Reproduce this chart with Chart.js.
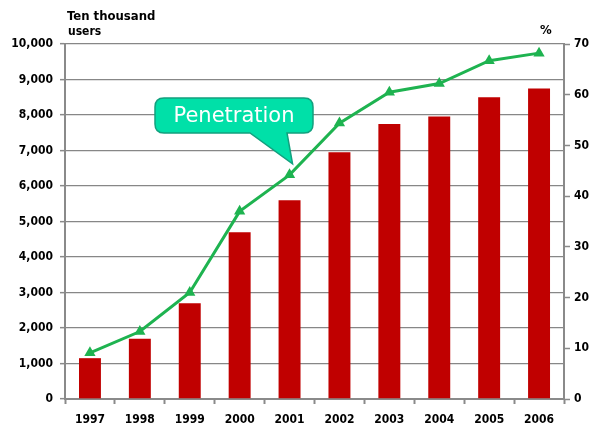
<!DOCTYPE html>
<html>
<head>
<meta charset="utf-8">
<script src="https://cdn.jsdelivr.net/npm/chart.js@4.4.1/dist/chart.umd.min.js"></script>
<style>
html,body{margin:0;padding:0;background:#fff;}
#wrap{position:relative;width:591px;height:430px;}
</style>
</head>
<body>
<div id="wrap"><canvas id="c" width="591" height="430"></canvas></div>
<script>
const categories = ['1997','1998','1999','2000','2001','2002','2003','2004','2005','2006'];
const users = [1150, 1700, 2700, 4700, 5600, 6950, 7750, 7960, 8500, 8750];
const penetration = [9.1, 13.3, 21.0, 37.0, 44.2, 54.4, 60.5, 62.2, 66.7, 68.2];
const leftTicks = [0,1000,2000,3000,4000,5000,6000,7000,8000,9000,10000];
const rightTicks = [0,10,20,30,40,50,60,70];
const leftTitle = ['Ten thousand', 'users'];
const rightTitle = '%';
const calloutText = 'Penetration';

const FONT = '"DejaVu Sans Condensed", "DejaVu Sans", sans-serif';
const GRID = '#878787';
const AXIS = '#8a8a8a';

const overlay = {
  id: 'overlay',
  afterDraw(chart) {
    const ctx = chart.ctx;
    const xs = chart.scales.x, y1 = chart.scales.y1;
    ctx.save();
    ctx.fillStyle = '#000';
    ctx.font = 'bold 13px ' + FONT;
    ctx.textAlign = 'left';
    ctx.textBaseline = 'alphabetic';
    ctx.fillText(leftTitle[0], 67, 20);
    ctx.font = 'bold 12px ' + FONT;
    ctx.fillText(leftTitle[1], 68, 35);
    ctx.font = 'bold 13px ' + FONT;
    ctx.fillText(rightTitle, 540, 34);

    const px = xs.getPixelForValue(4), py = y1.getPixelForValue(penetration[4]);
    const tipX = px + 3, tipY = py - 11;
    const bx = 155, by = 98, bw = 158, bh = 35, r = 9;
    ctx.beginPath();
    ctx.moveTo(bx + r, by);
    ctx.lineTo(bx + bw - r, by);
    ctx.quadraticCurveTo(bx + bw, by, bx + bw, by + r);
    ctx.lineTo(bx + bw, by + bh - r);
    ctx.quadraticCurveTo(bx + bw, by + bh, bx + bw - r, by + bh);
    ctx.lineTo(287, by + bh);
    ctx.lineTo(tipX, tipY);
    ctx.lineTo(250, by + bh);
    ctx.lineTo(bx + r, by + bh);
    ctx.quadraticCurveTo(bx, by + bh, bx, by + bh - r);
    ctx.lineTo(bx, by + r);
    ctx.quadraticCurveTo(bx, by, bx + r, by);
    ctx.closePath();
    ctx.fillStyle = '#00e0a8';
    ctx.fill();
    ctx.lineWidth = 1.5;
    ctx.strokeStyle = '#12a07e';
    ctx.stroke();
    ctx.fillStyle = '#fff';
    ctx.font = '21px "DejaVu Sans", sans-serif';
    ctx.textAlign = 'center';
    ctx.textBaseline = 'middle';
    ctx.fillText(calloutText, bx + bw / 2, by + bh / 2 + 1);
    ctx.restore();
  }
};

new Chart(document.getElementById('c'), {
  type: 'bar',
  data: {
    labels: categories,
    datasets: [
      {
        type: 'line',
        label: 'Penetration',
        data: penetration,
        yAxisID: 'y1',
        borderColor: '#1eb350',
        backgroundColor: '#1eb350',
        borderWidth: 3,
        tension: 0,
        pointStyle: 'triangle',
        pointRadius: 3.5,
        pointBackgroundColor: '#1eb350',
        pointBorderColor: '#1eb350',
        order: 1
      },
      {
        type: 'bar',
        label: 'Users',
        data: users,
        yAxisID: 'y',
        backgroundColor: '#c00000',
        borderWidth: 0,
        categoryPercentage: 1,
        barPercentage: 0.44,
        order: 2
      }
    ]
  },
  options: {
    responsive: false,
    animation: false,
    devicePixelRatio: 1,
    layout: { padding: { top: 44, left: 0, right: 0, bottom: 0 } },
    plugins: { legend: { display: false }, tooltip: { enabled: false }, title: { display: false } },
    scales: {
      x: {
        afterFit(s) { s.height = 31; },
        grid: { offset: true, drawOnChartArea: false, drawTicks: true, tickLength: 5, tickColor: AXIS, tickWidth: 2 },
        border: { display: true, color: AXIS, width: 2 },
        ticks: { color: '#000', font: { family: FONT, size: 12, weight: 'bold' }, padding: 9, maxRotation: 0 }
      },
      y: {
        position: 'left',
        min: 0, max: 10000,
        afterFit(s) { s.width = 65; },
        afterBuildTicks(s) { s.ticks = leftTicks.map(v => ({ value: v })); },
        grid: { drawOnChartArea: true, color: GRID, lineWidth: 1.3, drawTicks: true, tickLength: 5, tickColor: AXIS, tickWidth: 1.5 },
        border: { display: true, color: AXIS, width: 2 },
        ticks: {
          color: '#000', font: { family: FONT, size: 12, weight: 'bold' }, padding: 7,
          callback: v => v.toLocaleString('en-US')
        }
      },
      y1: {
        position: 'right',
        min: 0, max: 70,
        afterFit(s) { s.width = 27; },
        afterBuildTicks(s) { s.ticks = rightTicks.map(v => ({ value: v })); },
        grid: { drawOnChartArea: false, drawTicks: true, tickLength: 6, tickColor: AXIS, tickWidth: 1.5 },
        border: { display: true, color: AXIS, width: 2 },
        ticks: { color: '#000', font: { family: FONT, size: 12, weight: 'bold' }, padding: 4 }
      }
    }
  },
  plugins: [overlay]
});
</script>
</body>
</html>
